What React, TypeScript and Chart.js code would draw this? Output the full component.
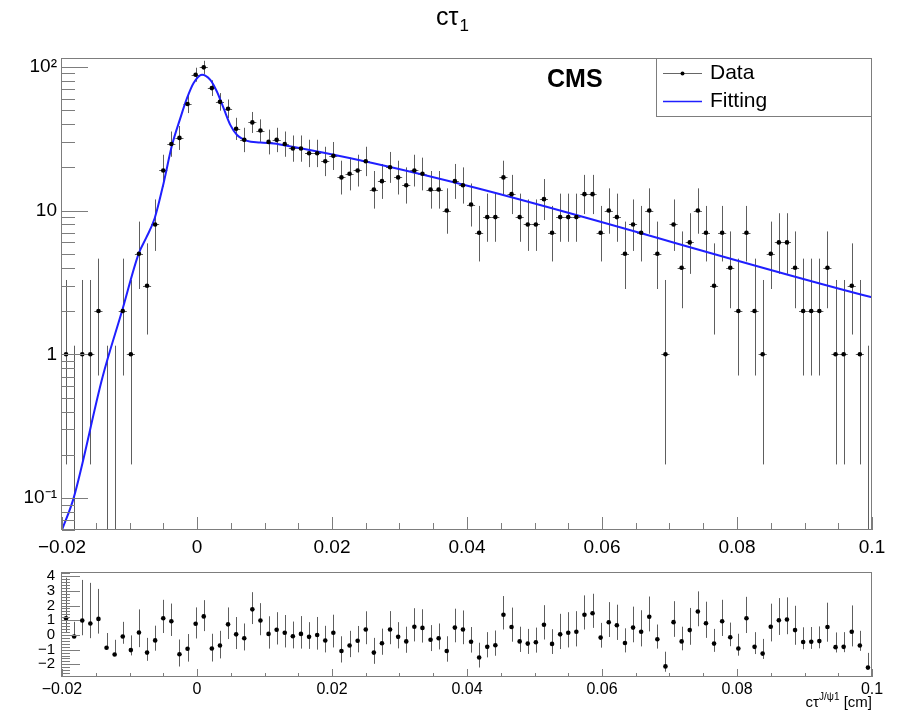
import React, { useEffect, useRef } from "react";
import { Chart, registerables } from "chart.js";

Chart.register(...registerables);

const FONT = "'Liberation Sans', Arial, Helvetica, sans-serif";

// Histogram definition
const X_MIN = -0.02;
const X_MAX = 0.1;
const N_BINS = 100;

// Event counts per bin
const counts = [
  1, 0, 1, 1, 2, 0, 0, 2, 1, 5,
  3, 8, 19, 29, 32, 55, 88, 99, 71, 57,
  51, 37, 31, 41, 36, 30, 31, 29, 27, 27,
  25, 25, 22, 24, 17, 18, 19, 22, 14, 16,
  20, 17, 15, 19, 18, 14, 14, 10, 16, 15,
  11, 7, 9, 9, 17, 13, 9, 8, 8, 12,
  7, 9, 9, 9, 13, 13, 7, 10, 9, 5,
  8, 7, 10, 5, 1, 8, 4, 6, 10, 7,
  3, 7, 4, 2, 7, 2, 1, 5, 6, 6,
  4, 2, 2, 2, 4, 1, 1, 3, 1, 0,
];

// Pull values per bin (lower panel)
const pulls = [
  1.13, -0.11, 0.98, 0.78, 1.09, -0.87, -1.33, -0.11, -1.03, 0.17,
  -1.2, -0.37, 1.13, 0.93, -1.31, -0.94, 0.76, 1.26, -0.92, -0.72,
  0.72, 0.04, -0.22, 1.74, 0.98, 0.07, 0.35, 0.15, -0.09, 0.07,
  -0.13, 0.0, -0.38, 0.15, -1.09, -0.72, -0.39, 0.37, -1.2, -0.57,
  0.37, -0.13, -0.44, 0.56, 0.48, -0.33, -0.22, -1.09, 0.5, 0.37,
  -0.46, -1.53, -0.81, -0.7, 1.37, 0.54, -0.44, -0.59, -0.5, 0.69,
  -0.61, 0.04, 0.15, 0.22, 1.37, 1.48, -0.18, 0.86, 0.66, -0.55,
  0.5, 0.22, 1.24, -0.29, -2.14, 0.87, -0.44, 0.33, 1.59, 0.8,
  -0.59, 0.93, -0.16, -0.92, 1.13, -0.81, -1.27, 0.56, 1.0, 1.05,
  0.33, -0.48, -0.46, -0.42, 0.54, -0.83, -0.81, 0.22, -0.72, -2.22,
];

// Fitted curve samples
const fitX = [
  -0.02, -0.01828, -0.01399, -0.01111, -0.00865, -0.0075, -0.00628, -0.00495,
  -0.0037, -0.00247, -0.00148, -0.0005, 0.00074, 0.00197, 0.00296, 0.00394,
  0.00493, 0.00593, 0.00741, 0.00938, 0.01209, 0.1,
];
const fitY = [
  0.06, 0.1, 0.695, 2.0, 5.0, 6.5, 8.8, 15.5,
  28.5, 43.9, 60.4, 77, 88, 81, 67, 51.5,
  39.4, 33.5, 30.5, 29.7, 28.9, 2.49,
];

// Axis ticks
const xTickValues = [-0.02, 0, 0.02, 0.04, 0.06, 0.08, 0.1];
const xTickLabels = ["\u22120.02", "0", "0.02", "0.04", "0.06", "0.08", "0.1"];
const yTickValues = [0.1, 1, 10, 100];
const yTickLabels = ["10\u207B\u00B9", "1", "10", "10\u00B2"];
const pullTickValues = [-2, -1, 0, 1, 2, 3, 4];
const pullTickLabels = ["\u22122", "\u22121", "0", "1", "2", "3", "4"];

const Y_MIN = 0.06;
const Y_MAX = 115;
const PULL_MIN = -2.86;
const PULL_MAX = 4.28;

const FIT_COLOR = "#1f1fff";
const FRAME_COLOR = "#7d7d7d";
const BAR_COLOR = "#5e5e5e";

function poisson(n: number): [number, number] {
  if (n === 0) return [0, 1.148];
  const lo = n * Math.pow(1 - 1 / (9 * n) - 1 / (3 * Math.sqrt(n)), 3);
  const m = n + 1;
  const hi = m * Math.pow(1 - 1 / (9 * m) + 1 / (3 * Math.sqrt(m)), 3);
  return [lo, hi];
}

function labelFor(values: number[], labels: string[], v: number) {
  const i = values.findIndex((t) => Math.abs(t - v) < 1e-9);
  return i >= 0 ? labels[i] : "";
}

function drawXTicks(ctx: CanvasRenderingContext2D, a: any, x: any, majorLen: number, minorLen: number) {
  for (let k = 0; k <= 24; k++) {
    const v = X_MIN + k * 0.005;
    const px = Math.round(x.getPixelForValue(v)) + 0.5;
    const isMajor = k % 4 === 0;
    const len = isMajor ? majorLen : minorLen;
    ctx.beginPath();
    ctx.moveTo(px, a.bottom);
    ctx.lineTo(px, a.bottom - len);
    ctx.stroke();
  }
}

export default function App() {
  const topRef = useRef<HTMLCanvasElement>(null);
  const botRef = useRef<HTMLCanvasElement>(null);

  useEffect(() => {
    Chart.defaults.font.family = FONT;
    const bw = (X_MAX - X_MIN) / N_BINS;
    const centers = counts.map((_, i) => X_MIN + (i + 0.5) * bw);

    const topPlugin = {
      id: "topDecor",
      beforeDatasetsDraw(chart: any) {
        const { ctx, chartArea: a, scales } = chart;
        const x = scales.x;
        const y = scales.y;
        ctx.save();
        ctx.beginPath();
        ctx.rect(a.left, a.top, a.right - a.left, a.bottom - a.top);
        ctx.clip();
        ctx.strokeStyle = BAR_COLOR;
        ctx.lineWidth = 1;
        counts.forEach((n, i) => {
          const cx = Math.round(x.getPixelForValue(centers[i])) + 0.5;
          const [lo, hi] = poisson(n);
          const yTop = y.getPixelForValue(hi);
          const yBot = lo > 0 ? y.getPixelForValue(lo) : a.bottom;
          ctx.beginPath();
          ctx.moveTo(cx, yTop);
          ctx.lineTo(cx, yBot);
          ctx.stroke();
          if (n > 0) {
            const yy = Math.round(y.getPixelForValue(n)) + 0.5;
            ctx.beginPath();
            ctx.moveTo(x.getPixelForValue(centers[i] - bw / 2), yy);
            ctx.lineTo(x.getPixelForValue(centers[i] + bw / 2), yy);
            ctx.stroke();
          }
        });
        ctx.restore();
      },
      afterDraw(chart: any) {
        const { ctx, chartArea: a, scales } = chart;
        const x = scales.x;
        const y = scales.y;
        ctx.save();
        // frame
        ctx.strokeStyle = FRAME_COLOR;
        ctx.lineWidth = 1;
        ctx.strokeRect(Math.round(a.left) - 0.5, Math.round(a.top) + 0.5, Math.round(a.right - a.left), Math.round(a.bottom - a.top) - 1);
        // y ticks (log)
        for (let d = -2; d <= 2; d++) {
          for (let k = 1; k <= 9; k++) {
            const v = k * Math.pow(10, d);
            if (v < Y_MIN || v > Y_MAX) continue;
            const py = Math.round(y.getPixelForValue(v)) + 0.5;
            const len = k === 1 ? 26 : 13;
            ctx.beginPath();
            ctx.moveTo(a.left, py);
            ctx.lineTo(a.left + len, py);
            ctx.stroke();
          }
        }
        drawXTicks(ctx, a, x, 13, 7);

        // title c tau_1
        ctx.fillStyle = "#000";
        ctx.textBaseline = "alphabetic";
        ctx.font = `25px ${FONT}`;
        const main = "c\u03C4";
        const w1 = ctx.measureText(main).width;
        ctx.font = `17px ${FONT}`;
        const w2 = ctx.measureText("1").width;
        const tx = 452 - (w1 + w2) / 2;
        ctx.font = `25px ${FONT}`;
        ctx.textAlign = "left";
        ctx.fillText(main, tx, 25);
        ctx.font = `17px ${FONT}`;
        ctx.fillText("1", tx + w1 + 1, 31);

        // CMS label
        ctx.font = `bold 25px ${FONT}`;
        ctx.textBaseline = "middle";
        ctx.fillText("CMS", 547, 80);

        // legend box
        const lx0 = 656.5, ly0 = 58.5, lx1 = 871.5, ly1 = 116.5;
        ctx.fillStyle = "#fff";
        ctx.fillRect(lx0, ly0, lx1 - lx0, ly1 - ly0);
        ctx.strokeStyle = FRAME_COLOR;
        ctx.strokeRect(lx0, ly0, lx1 - lx0, ly1 - ly0);
        const ds = chart.data.datasets;
        // Data entry
        ctx.strokeStyle = "#666";
        ctx.lineWidth = 1;
        ctx.beginPath();
        ctx.moveTo(663, 73.5);
        ctx.lineTo(702, 73.5);
        ctx.stroke();
        ctx.fillStyle = "#000";
        ctx.beginPath();
        ctx.arc(682.5, 73.5, 2, 0, Math.PI * 2);
        ctx.fill();
        // Fitting entry
        ctx.strokeStyle = FIT_COLOR;
        ctx.lineWidth = 1.5;
        ctx.beginPath();
        ctx.moveTo(663, 101.5);
        ctx.lineTo(702, 101.5);
        ctx.stroke();
        ctx.fillStyle = "#000";
        ctx.font = `21px ${FONT}`;
        ctx.textBaseline = "middle";
        ctx.fillText(ds[1].label, 710, 73);
        ctx.fillText(ds[0].label, 710, 101);
        ctx.restore();
      },
    };

    const top = new Chart(topRef.current as HTMLCanvasElement, {
      type: "line",
      data: {
        datasets: [
          {
            label: "Fitting",
            data: fitX.map((vx, i) => ({ x: vx, y: fitY[i] })),
            borderColor: FIT_COLOR,
            backgroundColor: FIT_COLOR,
            borderWidth: 2,
            pointRadius: 0,
            cubicInterpolationMode: "monotone",
            order: 1,
          },
          {
            label: "Data",
            data: centers.map((cx, i) => ({ x: cx, y: counts[i] > 0 ? counts[i] : null })),
            showLine: false,
            borderColor: "#000",
            backgroundColor: "#000",
            pointRadius: 2.3,
            pointBorderWidth: 0,
            order: 0,
          },
        ],
      } as any,
      options: {
        responsive: false,
        animation: false,
        events: [],
        layout: { padding: { left: 0, right: 30, top: 58, bottom: 0 } },
        plugins: { legend: { display: false }, tooltip: { enabled: false }, title: { display: false } },
        scales: {
          x: {
            type: "linear",
            min: X_MIN,
            max: X_MAX,
            afterBuildTicks: (s: any) => {
              s.ticks = xTickValues.map((v) => ({ value: v }));
            },
            afterFit: (s: any) => {
              s.height = 26;
            },
            grid: { display: false, drawTicks: false },
            border: { display: false },
            ticks: {
              autoSkip: false,
              maxRotation: 0,
              padding: 6,
              color: "#000",
              font: { family: FONT, size: 19 },
              callback: (v: any) => labelFor(xTickValues, xTickLabels, Number(v)),
            },
          },
          y: {
            type: "logarithmic",
            min: Y_MIN,
            max: Y_MAX,
            afterBuildTicks: (s: any) => {
              s.ticks = yTickValues.map((v) => ({ value: v }));
            },
            afterFit: (s: any) => {
              s.width = 62;
            },
            grid: { display: false, drawTicks: false },
            border: { display: false },
            ticks: {
              autoSkip: false,
              padding: 5,
              color: "#000",
              font: { family: FONT, size: 19 },
              callback: (v: any) => labelFor(yTickValues, yTickLabels, Number(v)),
            },
          },
        },
      } as any,
      plugins: [topPlugin],
    });

    const botPlugin = {
      id: "botDecor",
      beforeDatasetsDraw(chart: any) {
        const { ctx, chartArea: a, scales } = chart;
        const x = scales.x;
        const y = scales.y;
        ctx.save();
        ctx.beginPath();
        ctx.rect(a.left, a.top, a.right - a.left, a.bottom - a.top);
        ctx.clip();
        ctx.strokeStyle = BAR_COLOR;
        ctx.lineWidth = 1;
        pulls.forEach((p, i) => {
          const n = counts[i];
          const [lo, hi] = poisson(n);
          const eLo = n - lo;
          const eHi = hi - n;
          let up = 1;
          let down = 1;
          if (p >= 0) {
            up = eLo > 0 ? eHi / eLo : 1;
          } else {
            down = eHi > 0 ? eLo / eHi : 0;
          }
          const cx = Math.round(x.getPixelForValue(centers[i])) + 0.5;
          ctx.beginPath();
          ctx.moveTo(cx, y.getPixelForValue(p + up));
          ctx.lineTo(cx, y.getPixelForValue(p - down));
          ctx.stroke();
        });
        ctx.restore();
      },
      afterDraw(chart: any) {
        const { ctx, chartArea: a, scales } = chart;
        const x = scales.x;
        const y = scales.y;
        ctx.save();
        ctx.strokeStyle = FRAME_COLOR;
        ctx.lineWidth = 1;
        ctx.strokeRect(Math.round(a.left) - 0.5, Math.round(a.top) + 0.5, Math.round(a.right - a.left), Math.round(a.bottom - a.top) - 1);
        for (let k = -14; k <= 21; k++) {
          const v = k * 0.2;
          if (v < PULL_MIN || v > PULL_MAX) continue;
          const py = Math.round(y.getPixelForValue(v)) + 0.5;
          const len = k % 5 === 0 ? 18 : 8;
          ctx.beginPath();
          ctx.moveTo(a.left, py);
          ctx.lineTo(a.left + len, py);
          ctx.stroke();
        }
        drawXTicks(ctx, a, x, 8, 4);

        // axis title: c tau^{J/psi1} [cm]
        ctx.fillStyle = "#000";
        ctx.textBaseline = "alphabetic";
        ctx.textAlign = "left";
        const big = `15px ${FONT}`;
        const small = `10px ${FONT}`;
        ctx.font = big;
        const wA = ctx.measureText("c\u03C4").width;
        const wC = ctx.measureText(" [cm]").width;
        ctx.font = small;
        const wB = ctx.measureText("J/\u03C81").width;
        const right = a.right;
        const base = 151;
        let px = right - (wA + wB + wC);
        ctx.font = big;
        ctx.fillText("c\u03C4", px, base);
        px += wA;
        ctx.font = small;
        ctx.fillText("J/\u03C81", px, base - 7);
        px += wB;
        ctx.font = big;
        ctx.fillText(" [cm]", px, base);
        ctx.restore();
      },
    };

    const bot = new Chart(botRef.current as HTMLCanvasElement, {
      type: "line",
      data: {
        datasets: [
          {
            label: "Pull",
            data: centers.map((cx, i) => ({ x: cx, y: pulls[i] })),
            showLine: false,
            borderColor: "#000",
            backgroundColor: "#000",
            pointRadius: 2.3,
            pointBorderWidth: 0,
          },
        ],
      } as any,
      options: {
        responsive: false,
        animation: false,
        events: [],
        layout: { padding: { left: 0, right: 30, top: 12, bottom: 0 } },
        plugins: { legend: { display: false }, tooltip: { enabled: false }, title: { display: false } },
        scales: {
          x: {
            type: "linear",
            min: X_MIN,
            max: X_MAX,
            afterBuildTicks: (s: any) => {
              s.ticks = xTickValues.map((v) => ({ value: v }));
            },
            afterFit: (s: any) => {
              s.height = 39;
            },
            grid: { display: false, drawTicks: false },
            border: { display: false },
            ticks: {
              autoSkip: false,
              maxRotation: 0,
              padding: 3,
              color: "#000",
              font: { family: FONT, size: 16 },
              callback: (v: any) => labelFor(xTickValues, xTickLabels, Number(v)),
            },
          },
          y: {
            type: "linear",
            min: PULL_MIN,
            max: PULL_MAX,
            afterBuildTicks: (s: any) => {
              s.ticks = pullTickValues.map((v) => ({ value: v }));
            },
            afterFit: (s: any) => {
              s.width = 62;
            },
            grid: { display: false, drawTicks: false },
            border: { display: false },
            ticks: {
              autoSkip: false,
              padding: 7,
              color: "#000",
              font: { family: FONT, size: 15 },
              callback: (v: any) => labelFor(pullTickValues, pullTickLabels, Number(v)),
            },
          },
        },
      } as any,
      plugins: [botPlugin],
    });

    return () => {
      top.destroy();
      bot.destroy();
    };
  }, []);

  return (
    <div style={{ position: "fixed", left: 0, top: 0, width: 902, height: 716, background: "#fff" }}>
      <canvas
        ref={topRef}
        width={902}
        height={556}
        style={{ position: "absolute", left: 0, top: 0, width: 902, height: 556 }}
      />
      <canvas
        ref={botRef}
        width={902}
        height={160}
        style={{ position: "absolute", left: 0, top: 556, width: 902, height: 160 }}
      />
    </div>
  );
}
